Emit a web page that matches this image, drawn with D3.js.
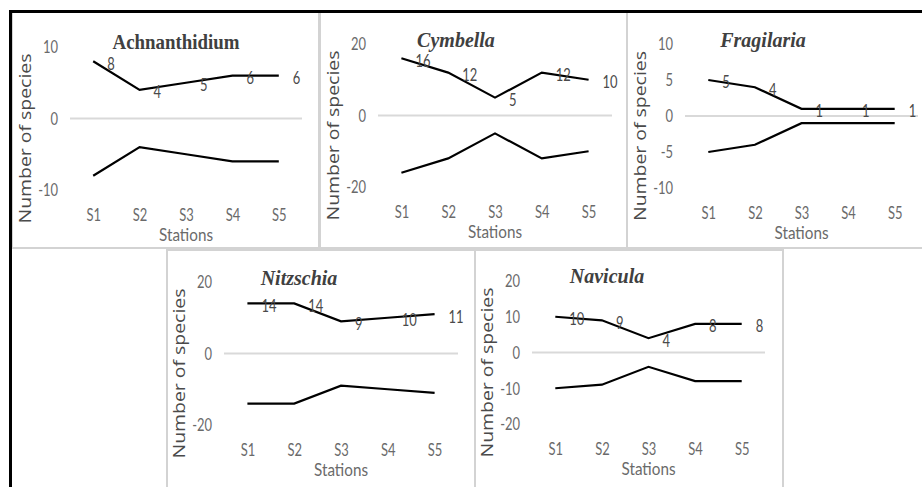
<!DOCTYPE html>
<html><head><meta charset="utf-8">
<script src="https://cdn.jsdelivr.net/npm/d3@7"></script>
<style>body{margin:0;background:#fff;overflow:hidden} svg{display:block}</style>
</head><body><svg id="c" width="922" height="487"></svg>
<script>
// ---- data ----
const stations = ["S1","S2","S3","S4","S5"];
const achnanthidium = [8,4,5,6,6];
const cymbella = [16,12,5,12,10];
const fragilaria = [5,4,1,1,1];
const nitzschia = [14,14,9,10,11];
const navicula = [10,9,4,8,8];
const ticksAchnanthidium = [-10,0,10];
const ticksCymbella = [-20,0,20];
const ticksFragilaria = [-10,-5,0,5,10];
const ticksNitzschia = [-20,0,20];
const ticksNavicula = [-20,-10,0,10,20];
const genusNames = ["Achnanthidium","Cymbella","Fragilaria","Nitzschia","Navicula"];
const yTitle = "Number of species";
const xTitle = "Stations";

// ---- layout ----
const panels = [
 {name: genusNames[0], values: achnanthidium, ticks: ticksAchnanthidium, dom:[-10,10],
  frame:[12,12,319,248], plot:{l:70,r:302,top:47,bot:190}, title:{x:176,y:49,italic:false,len:127}},
 {name: genusNames[1], values: cymbella, ticks: ticksCymbella, dom:[-20,20],
  frame:[320,12,627,248], plot:{l:378,r:612,top:44,bot:187}, title:{x:456,y:47,italic:true}},
 {name: genusNames[2], values: fragilaria, ticks: ticksFragilaria, dom:[-10,10],
  frame:[627,12,932,248], plot:{l:685,r:918,top:44,bot:188}, title:{x:763,y:47,italic:true}},
 {name: genusNames[3], values: nitzschia, ticks: ticksNitzschia, dom:[-20,20],
  frame:[167,250,475,497], plot:{l:224,r:458,top:282,bot:425}, title:{x:299,y:285,italic:true}},
 {name: genusNames[4], values: navicula, ticks: ticksNavicula, dom:[-20,20],
  frame:[475,250,783,497], plot:{l:532,r:765,top:281,bot:424}, title:{x:607,y:283,italic:true}}
];

const svg = d3.select("#c");
svg.append("rect").attr("width",922).attr("height",487).attr("fill","#fff");

const SX = 0.72;          // horizontal squeeze of the picture's glyphs
const FS = 18;
const tickColor = "#6a6a6a";
const labelColor = "#4a4a4a";
const titleColor = "#404040";

// panel borders
panels.forEach(p => {
  const [x0,y0,x1,y1] = p.frame;
  svg.append("rect").attr("x",x0).attr("y",y0).attr("width",x1-x0).attr("height",y1-y0)
    .attr("fill","none").attr("stroke","#d3d3d3").attr("stroke-width",2);
});

panels.forEach(p => {
  const g = svg.append("g");
  const x = d3.scalePoint().domain(stations).range([p.plot.l, p.plot.r]).padding(0.5);
  const y = d3.scaleLinear().domain(p.dom).range([p.plot.bot, p.plot.top]);

  // zero line
  g.append("line").attr("x1",p.plot.l).attr("x2",p.plot.r)
    .attr("y1",y(0)).attr("y2",y(0)).attr("stroke","#d9d9d9").attr("stroke-width",2);

  // y axis
  const ya = g.append("g").attr("transform",`translate(${p.plot.l},0)`)
    .call(d3.axisLeft(y).tickValues(p.ticks).tickSize(0).tickPadding(12).tickFormat(d => String(d)));
  ya.select(".domain").remove();
  ya.attr("font-family","Lato").attr("font-size",FS).attr("color",tickColor);
  ya.selectAll(".tick text").attr("x",-12/SX).attr("transform",`scale(${SX},1)`);

  // x axis (labels low)
  const xa = g.append("g").attr("transform",`translate(0,${p.plot.bot})`)
    .call(d3.axisBottom(x).tickSize(0).tickPadding(18));
  xa.select(".domain").remove();
  xa.attr("font-family","Lato").attr("font-size",FS).attr("color",tickColor);
  xa.selectAll(".tick text").attr("transform",`scale(${SX},1)`);

  // axis titles
  g.append("text").attr("transform",`translate(${(p.plot.l+p.plot.r)/2},${p.plot.bot+51})`)
    .attr("text-anchor","middle").attr("font-family","Lato").attr("font-size",FS)
    .attr("fill",tickColor).attr("textLength",54).attr("lengthAdjust","spacingAndGlyphs").text(xTitle);
  g.append("text").attr("transform",`translate(${p.plot.l-39},${(p.plot.top+p.plot.bot)/2+20})rotate(-90)`)
    .attr("text-anchor","middle").attr("font-family","'Open Sans'").attr("font-size",16)
    .attr("fill",labelColor).attr("textLength",170).attr("lengthAdjust","spacingAndGlyphs").text(yTitle);

  // title
  const t = g.append("text").attr("x",p.title.x).attr("y",p.title.y).attr("text-anchor","middle")
    .attr("font-family","'Liberation Serif','Times New Roman',serif").attr("font-weight","bold")
    .attr("font-size",p.title.italic?20:22).attr("font-style",p.title.italic?"italic":"normal")
    .attr("fill",titleColor).text(p.name);
  if (p.title.len) t.attr("textLength",p.title.len).attr("lengthAdjust","spacingAndGlyphs");

  // lines: positive and mirrored negative series
  const line = d3.line().x((d,i)=>x(stations[i])).y(d=>y(d));
  g.append("path").attr("d",line(p.values)).attr("fill","none").attr("stroke","#000").attr("stroke-width",2.2);
  g.append("path").attr("d",line(p.values.map(v=>-v))).attr("fill","none").attr("stroke","#000").attr("stroke-width",2.2);

  // data labels (right of points)
  g.selectAll("text.dl").data(p.values).join("text").attr("class","dl")
    .attr("transform",(d,i)=>`translate(${x(stations[i])+14},${y(d)+2})scale(${SX},1)`)
    .attr("dy","0.36em").attr("font-family","Lato").attr("font-size",FS).attr("fill",labelColor)
    .text(d=>d);
});

// outer black frame (top and left)
svg.append("line").attr("x1",9).attr("x2",922).attr("y1",11.5).attr("y2",11.5).attr("stroke","#000").attr("stroke-width",3);
svg.append("line").attr("x1",10.5).attr("x2",10.5).attr("y1",10).attr("y2",487).attr("stroke","#000").attr("stroke-width",3);
</script></body></html>
